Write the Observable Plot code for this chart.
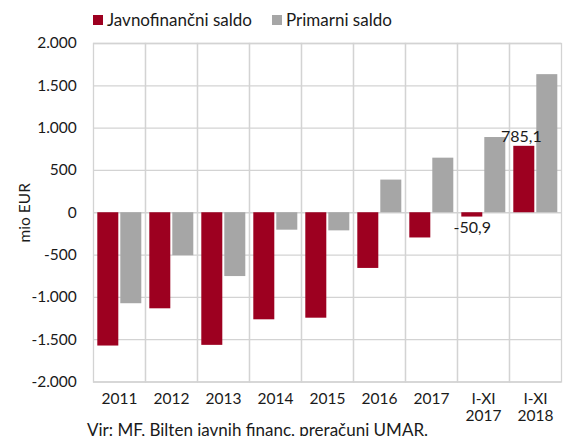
<!DOCTYPE html>
<html>
<head>
<meta charset="utf-8">
<script src="https://cdn.jsdelivr.net/npm/d3@7"></script>
<script src="https://cdn.jsdelivr.net/npm/@observablehq/plot@0.6"></script>
<style>
  html, body { margin: 0; padding: 0; background: #fff; }
  body { width: 568px; height: 436px; overflow: hidden; font-family: Lato, sans-serif; color: #1a1a1a; position: relative; }
  #legend { height: 32px; box-sizing: border-box; padding-top: 8px; padding-left: 93px; line-height: 20px; font-size: 17px; display: flex; align-items: center; }
  .sw { display: inline-block; width: 10px; height: 10px; margin-right: 4px; }
  .item { display: flex; align-items: center; }
  #caption { position: absolute; left: 0; top: 421.5px; font-size: 17px; line-height: 15px; padding-left: 87px; white-space: nowrap; }
</style>
</head>
<body>
<div id="legend"></div>
<div id="chart"></div>
<div id="caption">Vir: MF, Bilten javnih financ, preračuni UMAR.</div>
<script>
const categories = ["2011", "2012", "2013", "2014", "2015", "2016", "2017", "I-XI 2017", "I-XI 2018"];
const seriesNames = ["Javnofinančni saldo", "Primarni saldo"];
const javnofinancni = [-1575, -1135, -1567, -1265, -1246, -658, -298, -50.9, 785.1];
const primarni = [-1075, -508, -754, -206, -214, 386, 645, 889, 1632];
const colors = ["#9d0020", "#a6a6a6"];
const yTicks = [-2000, -1500, -1000, -500, 0, 500, 1000, 1500, 2000];
const labelCats = ["I-XI 2017", "I-XI 2018"];
const labelValues = [-50.9, 785.1];
const labelTexts = ["-50,9", "785,1"];

const data = [];
categories.forEach((c, i) => {
  data.push({cat: c, series: seriesNames[0], value: javnofinancni[i]});
  data.push({cat: c, series: seriesNames[1], value: primarni[i]});
});
const labels = labelCats.map((c, i) => ({cat: c, series: seriesNames[0], value: labelValues[i], text: labelTexts[i]}));

const loc = d3.formatLocale({decimal: ",", thousands: ".", grouping: [3], currency: ["", "€"], minus: "-"});
const fmt = loc.format(",");

// legend
const legend = document.getElementById("legend");
seriesNames.forEach((s, i) => {
  const it = document.createElement("span");
  it.className = "item";
  if (i > 0) it.style.marginLeft = "20px";
  it.innerHTML = `<span class="sw" style="background:${colors[i]}"></span><span>${s}</span>`;
  legend.appendChild(it);
});

const gridColor = "#d3d3d3";
const chart = Plot.plot({
  width: 568,
  height: 404,
  marginTop: 11,
  marginBottom: 54.5,
  marginLeft: 91.7,
  marginRight: 5,
  style: {fontFamily: "Lato, sans-serif", fontSize: "15.5px", color: "#1a1a1a", background: "transparent"},
  fx: {domain: categories, padding: 0, label: null},
  x: {domain: seriesNames, paddingInner: 0.1, paddingOuter: 0.14, axis: null},
  y: {domain: [-2000, 2000], label: null},
  color: {domain: seriesNames, range: colors},
  marks: [
    Plot.gridY(yTicks, {stroke: gridColor, strokeOpacity: 1, strokeWidth: 1.3}),
    Plot.frame({stroke: gridColor, strokeWidth: 1.3}),
    Plot.barY(data, {fx: "cat", x: "series", y: "value", fill: "series"}),
    Plot.text(labels, {filter: d => d.value > 0, fx: "cat", x: "series", y: "value", text: "text", lineAnchor: "bottom", dy: -4, dx: -3, fontSize: 16, fill: "#1a1a1a"}),
    Plot.text(labels, {filter: d => d.value < 0, fx: "cat", x: "series", y: "value", text: "text", lineAnchor: "top", dy: 5, fontSize: 16, fill: "#1a1a1a"}),
    Plot.axisY(yTicks, {tickSize: 0, tickPadding: 16.7, tickFormat: fmt, label: "mio EUR", labelAnchor: "center", labelArrow: "none", labelOffset: 75}),
    Plot.axisFx({anchor: "bottom", tickSize: 0, tickPadding: 10.5, tickFormat: d => d.replace(" ", "\n"), lineHeight: 1.08, label: null})
  ]
});
document.getElementById("chart").appendChild(chart);
</script>
</body>
</html>
